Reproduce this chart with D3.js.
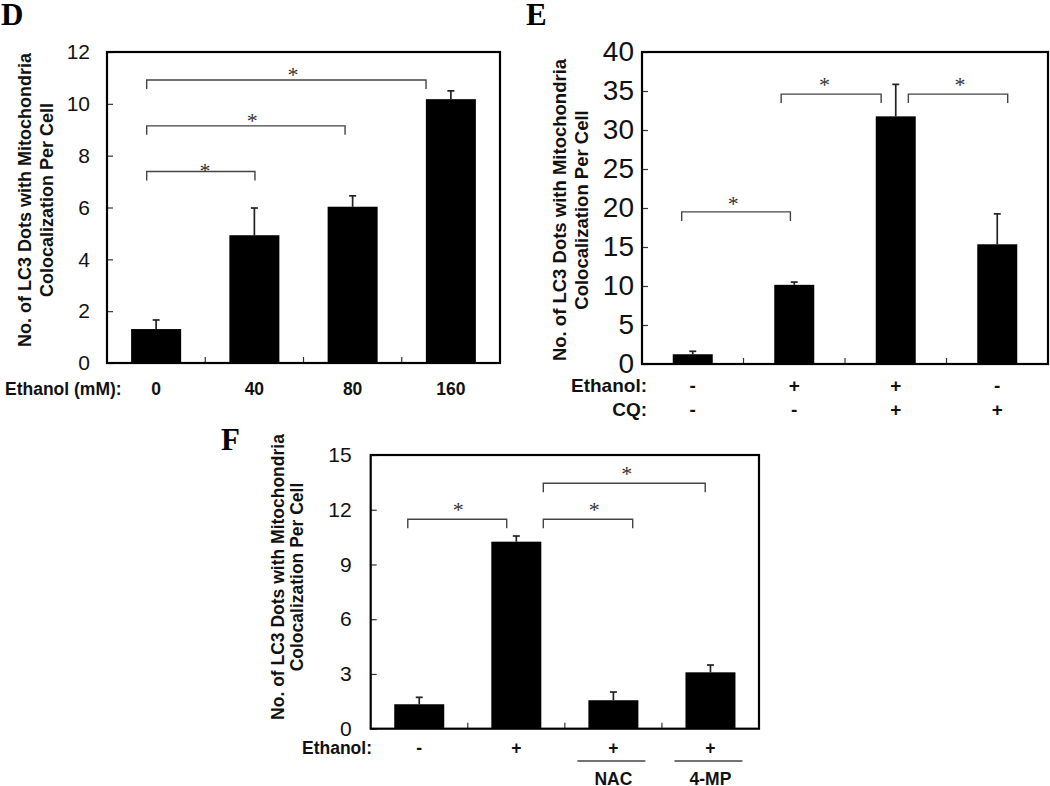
<!DOCTYPE html>
<html><head><meta charset="utf-8">
<script src="https://cdn.jsdelivr.net/npm/d3@7"></script>
<style>body{margin:0;background:#fff}</style>
</head><body>
<svg id="chart" width="1050" height="786"></svg>
<script>
// ---------------- data ----------------
const yTitle1 = "No. of LC3 Dots with Mitochondria";
const yTitle2 = "Colocalization Per Cell";

const dCategories = ["0", "40", "80", "160"];
const dMeans = [1.31, 4.93, 6.03, 10.18];
const dErrors = [0.35, 1.05, 0.42, 0.32];
const dTicks = [0, 2, 4, 6, 8, 10, 12];
// significance brackets: category-unit ends, bracket level & star level in data units
const dBrackets = [
  {from: -0.096, to: 1.006, level: 7.39, starAt: 0.498, starLevel: 7.55},
  {from: -0.096, to: 1.923, level: 9.15, starAt: 0.979, starLevel: 9.48},
  {from: -0.096, to: 2.747, level: 10.92, starAt: 1.393, starLevel: 11.24}
];

const eEthanol = ["-", "+", "+", "-"];
const eCQ = ["-", "-", "+", "+"];
const eMeans = [1.25, 10.15, 31.75, 15.35];
const eErrors = [0.38, 0.35, 4.1, 3.9];
const eTicks = [0, 5, 10, 15, 20, 25, 30, 35, 40];
const eBrackets = [
  {from: -0.109, to: 0.962, level: 19.5, starAt: 0.399, starLevel: 21.0},
  {from: 0.871, to: 1.856, level: 34.6, starAt: 1.299, starLevel: 36.2},
  {from: 2.124, to: 3.103, level: 34.6, starAt: 2.633, starLevel: 36.2}
];

const fEthanol = ["-", "+", "+", "+"];
const fTreatment = ["", "", "NAC", "4-MP"];
const fMeans = [1.34, 10.25, 1.56, 3.09];
const fErrors = [0.38, 0.31, 0.45, 0.40];
const fTicks = [0, 3, 6, 9, 12, 15];
const fBrackets = [
  {from: -0.118, to: 0.901, level: 11.48, starAt: 0.403, starLevel: 12.17},
  {from: 1.278, to: 2.199, level: 11.48, starAt: 1.803, starLevel: 12.17},
  {from: 1.278, to: 2.946, level: 13.45, starAt: 2.137, starLevel: 14.14}
];

// ---------------- drawing ----------------
const SANS = "'Liberation Sans', Arial, Helvetica, sans-serif";
const SERIF = "'Liberation Serif', 'Times New Roman', serif";
const svg = d3.select("#chart");

function drawPanel(cfg) {
  const g = svg.append("g");
  const n = cfg.means.length;
  const xb = d3.scaleBand().domain(d3.range(n)).range([cfg.x0, cfg.x1])
    .paddingInner(cfg.pad).paddingOuter(cfg.pad / 2);
  const xc = d3.scaleLinear().domain([-0.5, n - 0.5]).range([cfg.x0, cfg.x1]);
  const y = d3.scaleLinear().domain([0, cfg.yMax]).range([cfg.y1, cfg.y0]);
  const center = i => xb(i) + xb.bandwidth() / 2;

  // error bars (upper only)
  const eb = g.append("g").attr("stroke", "#222").attr("stroke-width", 1.7);
  eb.selectAll("line.v").data(cfg.means).join("line").attr("class", "v")
    .attr("x1", (d, i) => center(i)).attr("x2", (d, i) => center(i))
    .attr("y1", d => y(d)).attr("y2", (d, i) => y(d + cfg.errors[i]));
  eb.selectAll("line.c").data(cfg.means).join("line").attr("class", "c")
    .attr("x1", (d, i) => center(i) - 3.5).attr("x2", (d, i) => center(i) + 3.5)
    .attr("y1", (d, i) => y(d + cfg.errors[i])).attr("y2", (d, i) => y(d + cfg.errors[i]));

  // bars
  g.append("g").selectAll("rect").data(cfg.means).join("rect")
    .attr("x", (d, i) => xb(i)).attr("y", d => y(d))
    .attr("width", xb.bandwidth()).attr("height", d => y(0) - y(d))
    .attr("fill", "#000");

  // y axis (ticks inward)
  const ax = d3.axisLeft(y).tickValues(cfg.ticks).tickSizeInner(-6).tickSizeOuter(0)
    .tickPadding(cfg.tickPad);
  const axg = g.append("g").attr("transform", `translate(${cfg.x0},0)`).call(ax);
  axg.select(".domain").remove();
  axg.selectAll("line").attr("stroke", "#333").attr("stroke-width", 1.2);
  axg.selectAll("text").attr("font-size", cfg.tickFont).attr("font-family", SANS).attr("fill", "#111");

  // category separators on the x axis
  g.append("g").selectAll("line").data(d3.range(1, n)).join("line")
    .attr("x1", i => xb(i) - xb.step() * cfg.pad / 2).attr("x2", i => xb(i) - xb.step() * cfg.pad / 2)
    .attr("y1", cfg.y1).attr("y2", cfg.y1 - 6)
    .attr("stroke", "#333").attr("stroke-width", 1.2);

  // plot frame
  g.append("rect").attr("x", cfg.x0).attr("y", cfg.y0)
    .attr("width", cfg.x1 - cfg.x0).attr("height", cfg.y1 - cfg.y0)
    .attr("fill", "none").attr("stroke", "#000").attr("stroke-width", 2.2);

  // significance brackets
  const bg = g.append("g").attr("fill", "none").attr("stroke", "#444").attr("stroke-width", 1.4);
  bg.selectAll("path").data(cfg.brackets).join("path")
    .attr("d", b => {
      const a = xc(b.from), c = xc(b.to), yy = y(b.level);
      return `M${a},${yy + 9}V${yy}H${c}V${yy + 9}`;
    });
  g.append("g").selectAll("text").data(cfg.brackets).join("text")
    .attr("x", b => xc(b.starAt)).attr("y", b => y(b.starLevel) + 0.48 * 22)
    .attr("text-anchor", "middle").attr("font-family", SERIF).attr("font-size", 22)
    .attr("fill", "#333").text("*");

  // y title
  [[yTitle1, cfg.t1x], [yTitle2, cfg.t2x]].forEach(([t, tx]) => {
    g.append("text").attr("transform", `translate(${tx},${cfg.ty}) rotate(-90)`)
      .attr("text-anchor", "middle").attr("dy", "0.35em")
      .attr("font-family", SANS).attr("font-weight", "bold").attr("font-size", cfg.titleFont)
      .attr("fill", "#111").text(t);
  });

  // panel letter
  g.append("text").attr("x", cfg.letterX).attr("y", cfg.letterY)
    .attr("font-family", SERIF).attr("font-weight", "bold").attr("font-size", 31)
    .attr("fill", "#000").text(cfg.letter);

  // x label rows
  cfg.rows.forEach(r => {
    g.append("text").attr("x", r.labelX).attr("y", r.y).attr("text-anchor", r.anchor)
      .attr("font-family", SANS).attr("font-weight", "bold").attr("font-size", cfg.labelFont)
      .attr("fill", "#111").text(r.label);
    g.append("g").selectAll("text").data(r.values).join("text")
      .attr("x", (d, i) => center(i)).attr("y", r.y).attr("text-anchor", "middle")
      .attr("font-family", SANS).attr("font-weight", "bold").attr("font-size", cfg.labelFont)
      .attr("fill", "#111").text(d => d);
  });
  if (cfg.treatments) {
    const tr = cfg.treatments;
    const idx = d3.range(n).filter(i => tr.values[i] !== "");
    g.append("g").selectAll("line").data(idx).join("line")
      .attr("x1", i => center(i) - 36).attr("x2", i => center(i) + 32)
      .attr("y1", tr.lineY).attr("y2", tr.lineY)
      .attr("stroke", "#444").attr("stroke-width", 1.3);
    g.append("g").selectAll("text").data(idx).join("text")
      .attr("x", i => center(i)).attr("y", tr.y).attr("text-anchor", "middle")
      .attr("font-family", SANS).attr("font-weight", "bold").attr("font-size", cfg.labelFont)
      .attr("fill", "#111").text(i => tr.values[i]);
  }
}

drawPanel({
  letter: "D", letterX: 1, letterY: 25,
  x0: 107, x1: 500, y0: 52, y1: 363, yMax: 12, pad: 0.491,
  means: dMeans, errors: dErrors, ticks: dTicks, tickPad: 17, tickFont: 21,
  brackets: dBrackets, t1x: 25, t2x: 47, ty: 200, titleFont: 18, labelFont: 17.5,
  rows: [{label: "Ethanol (mM):", labelX: 5, anchor: "start", y: 395, values: dCategories}]
});

drawPanel({
  letter: "E", letterX: 526, letterY: 25,
  x0: 642, x1: 1048, y0: 52, y1: 364, yMax: 40, pad: 0.606,
  means: eMeans, errors: eErrors, ticks: eTicks, tickPad: 8, tickFont: 28,
  brackets: eBrackets, t1x: 560, t2x: 582, ty: 210, titleFont: 18.5, labelFont: 19,
  rows: [
    {label: "Ethanol:", labelX: 647, anchor: "end", y: 392, values: eEthanol},
    {label: "CQ:", labelX: 647, anchor: "end", y: 416, values: eCQ}
  ]
});

drawPanel({
  letter: "F", letterX: 221, letterY: 450,
  x0: 370.7, x1: 759, y0: 455, y1: 728.7, yMax: 15, pad: 0.485,
  means: fMeans, errors: fErrors, ticks: fTicks, tickPad: 19, tickFont: 21,
  brackets: fBrackets, t1x: 278, t2x: 297, ty: 577, titleFont: 17.5, labelFont: 17.5,
  rows: [{label: "Ethanol:", labelX: 372, anchor: "end", y: 754, values: fEthanol}],
  treatments: {values: fTreatment, lineY: 761, y: 785}
});
</script>
</body></html>
